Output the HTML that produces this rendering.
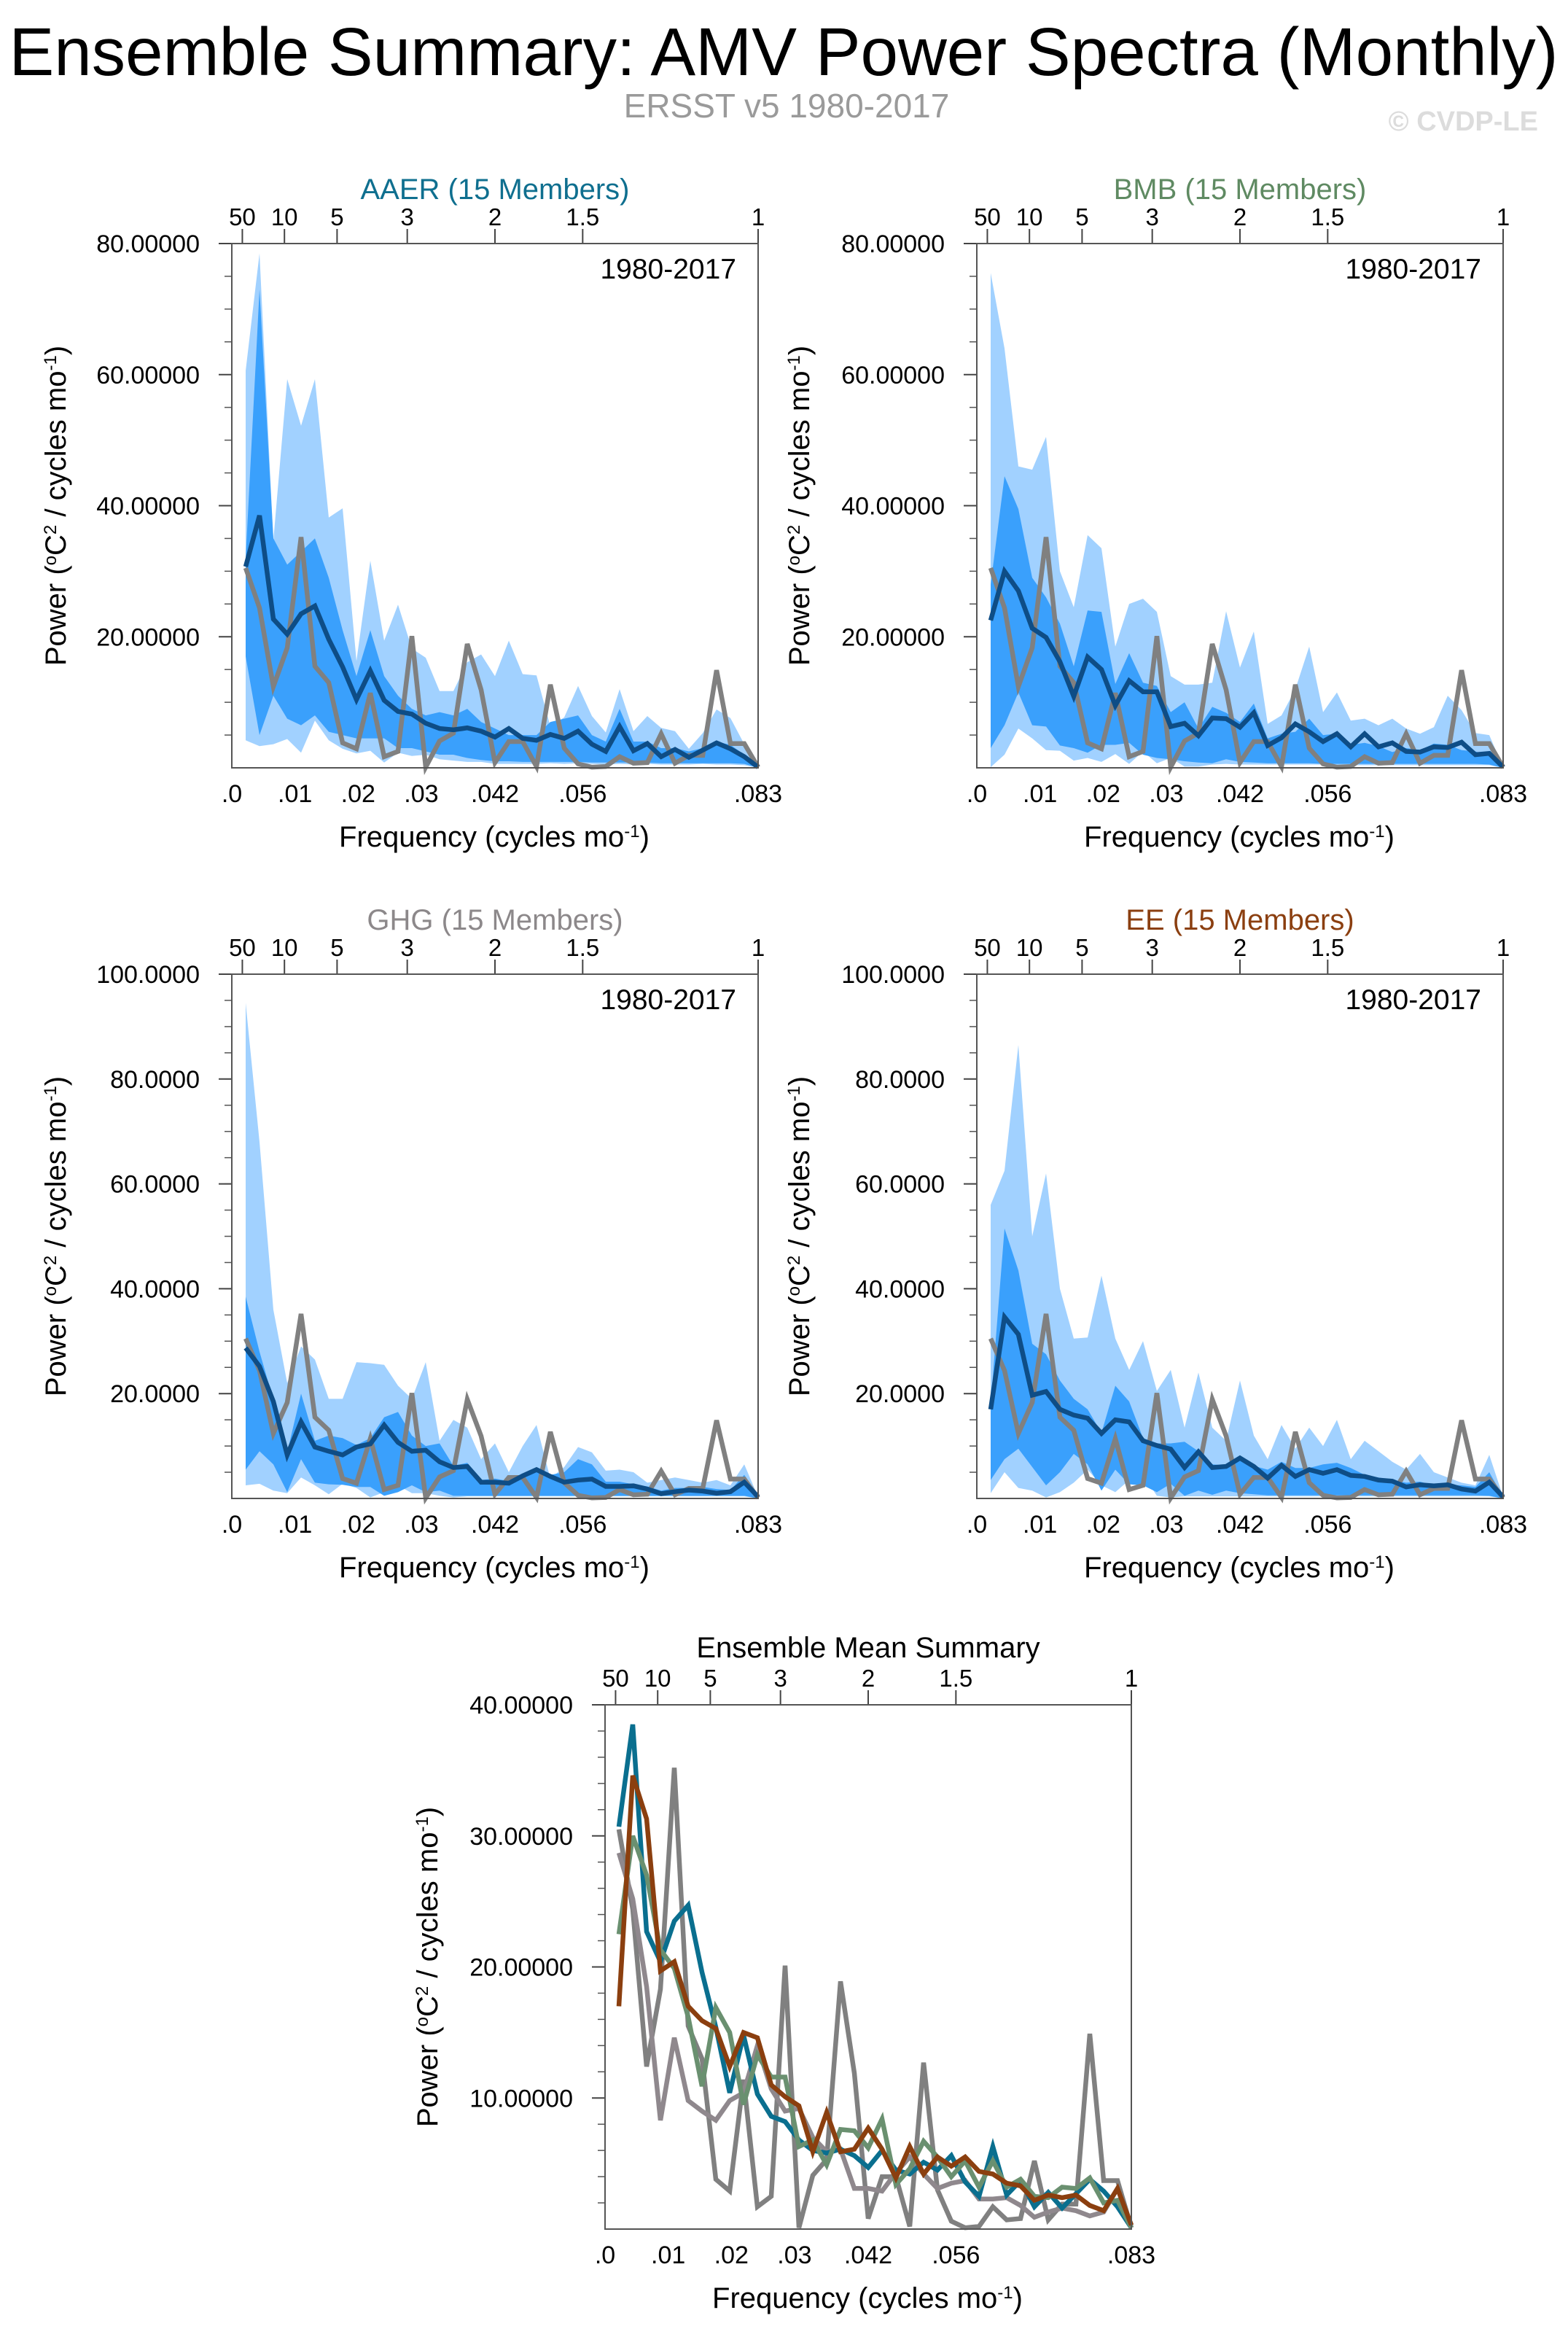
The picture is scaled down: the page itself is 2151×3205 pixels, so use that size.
<!DOCTYPE html>
<html><head><meta charset="utf-8"><title>AMV Power Spectra</title>
<style>
html,body{margin:0;padding:0;background:#fff;}
svg{display:block;font-family:"Liberation Sans",Arial,sans-serif;}
</style></head>
<body>
<svg id="fig" width="2151" height="3205" viewBox="0 0 2151 3205" xmlns="http://www.w3.org/2000/svg">
<text x="1075" y="103" font-size="93" text-anchor="middle" textLength="2125" lengthAdjust="spacingAndGlyphs" fill="#000">Ensemble Summary: AMV Power Spectra (Monthly)</text>
<text x="1079" y="161" font-size="46" text-anchor="middle" fill="#9a9a9a">ERSST v5 1980-2017</text>
<text x="2110" y="179" font-size="38" font-weight="bold" text-anchor="end" fill="#dcdcdc">© CVDP-LE</text>
</svg>
<script>
// ---- data (38 frequencies, k/456 cycles per month) ----
const freqK = [1,2,3,4,5,6,7,8,9,10,11,12,13,14,15,16,17,18,19,20,21,22,23,24,25,26,27,28,29,30,31,32,33,34,35,36,37,38];
const obsPower = [30.5,24.4,12.4,18.3,35.2,15.5,13.0,3.8,2.9,11.4,1.7,2.5,20.1,0.1,4.1,5.3,18.9,11.9,0.8,4.0,4.0,0.2,12.7,3.0,0.6,0.1,0.2,1.7,0.7,0.8,5.2,0.7,1.9,1.9,14.9,3.7,3.7,0.1];

const aaerMean = [30.7,38.5,22.7,20.4,23.5,24.7,19.6,15.4,10.4,14.8,10.3,8.6,8.2,6.8,6.0,5.8,6.1,5.6,4.7,6.0,4.5,4.2,5.1,4.5,5.6,3.6,2.5,6.3,2.6,3.7,1.7,2.8,1.6,2.7,3.8,2.9,1.7,0.1];
const aaerLightHi = [60.6,78.5,34.7,59.3,52.2,59.3,38.2,39.6,16.3,31.6,19.4,24.9,18.2,16.8,11.7,11.7,16.1,17.3,14.0,19.4,14.3,14.1,6.3,7.7,12.5,7.9,5.4,12.0,5.6,7.9,6.1,5.6,2.9,5.3,8.9,7.6,3.6,0.1];
const aaerLightLo = [4.2,3.3,3.6,4.4,2.3,7.2,4.2,2.9,2.2,2.6,0.8,2.3,1.8,2.0,1.3,1.1,0.9,0.9,0.6,0.6,0.6,0.6,0.7,0.6,0.7,0.6,0.5,0.6,0.5,0.6,0.5,0.5,0.5,0.6,0.5,0.5,0.4,0];
const aaerDarkHi = [32,73,35,31,33,35,29,21,14,21,14,11,9,8,8.5,8,9,7,6,5,5,5,7,7.5,8,5,4,9,4,4,3,3,2.5,3,4,3.5,2,0.1];
const aaerDarkLo = [17,5,11,7.5,6.5,8,5.5,5,4.5,4.5,4.5,3,3,2.5,2,2,1.5,1.2,1,1,0.9,0.9,0.9,0.9,0.9,0.8,0.8,0.8,0.8,0.8,0.7,0.7,0.7,0.7,0.7,0.7,0.6,0];

const bmbMean = [22.5,30.0,27.0,21.3,19.9,16.2,10.9,16.9,15.0,9.5,13.3,11.6,11.6,6.3,6.8,4.9,7.6,7.5,6.2,8.4,3.4,4.6,6.7,5.5,4.0,5.2,3.2,5.2,3.2,3.8,2.5,2.4,3.2,3.1,3.9,2.0,2.2,0.1];
const bmbLightHi = [75.5,64,46,45.5,50.5,30,24.5,35.5,33.5,18.5,25,25.8,23.8,14,12.7,12.7,13,23.9,15.3,20.8,6.7,8,12,18.5,8.5,11.5,7.2,7.5,6.5,7.5,6,5.2,6.2,11,8.8,5.3,5,0.1];
const bmbLightLo = [0.1,2,6,4.5,2.7,2.6,1.1,1.5,0.9,2.1,0.6,2.5,0.7,1.5,0.2,0.2,0.5,0.6,0.5,0.5,0.5,0.5,0.5,0.5,0.5,0.4,0.4,0.4,0.4,0.4,0.4,0.4,0.4,0.4,0.4,0.4,0.4,0];
const bmbDarkHi = [28,44.5,39.5,29,26,22,15.5,24,23.8,12.8,17.5,13,12.5,8.5,10,6,9.3,8.4,7,9.8,4.5,5.2,5.5,7.5,5,5.2,3.5,3.8,3.3,2.4,3,2.7,3.7,3.5,2.7,2.5,1.8,0.1];
const bmbDarkLo = [3,6.5,11.5,6.5,6.3,3.4,3,2.3,3.5,3.5,3.8,2,1.5,1.3,1,0.8,0.7,1.3,0.9,0.8,0.7,0.7,0.7,0.7,0.6,0.6,0.6,0.6,0.6,0.6,0.6,0.6,0.6,0.6,0.6,0.6,0.5,0];

const ghgMean = [28.7,25.2,18.5,8.3,14.6,9.8,9.0,8.3,9.8,10.4,14.0,10.7,9.0,9.2,7.0,5.9,6.1,3.1,3.1,2.9,4.3,5.5,4.2,3.1,3.5,3.7,2.3,2.3,2.4,1.8,0.9,1.3,1.6,1.4,1.0,1.3,3.1,0.3];
const ghgLightHi = [94.5,68,36,22,29,26.5,19,19,26,25.8,25.5,21.5,19,26,11,15,13.5,7.5,10.5,5,10,14,3.8,6,9.8,8.8,5.3,5.5,5,3,3.5,4,3.5,3,3.5,2.5,6.5,0.3];
const ghgLightLo = [2.5,2.8,1.5,1,4,2.5,0.8,2.8,2,0.2,1.2,2.5,1,1,0.5,0.2,0.4,0.4,0.4,0.4,0.4,0.4,0.4,0.4,0.4,0.4,0.4,0.4,0.4,0.4,0.4,0.4,0.4,0.4,0.4,0.4,0.4,0];
const ghgDarkHi = [38.5,28,18.8,8.8,20,11,12,11.5,10.2,11.5,15.5,16.5,12,10,10.5,6.2,6.8,3.5,3.8,3.3,4.5,5.8,4.5,5,7.5,6.5,3.2,3.2,2.7,2.3,1.5,2,2,2.2,1.8,1.6,4.5,0.3];
const ghgDarkLo = [5.5,9,6.5,1.2,7.5,3,2.7,2.6,2.2,2.2,0.5,1.2,2.5,1.2,1.5,0.5,0.5,0.5,0.5,0.5,0.5,0.5,0.5,0.5,0.5,0.5,0.5,0.5,0.5,0.5,0.5,0.5,0.5,0.5,0.5,0.5,0.5,0];

const eeMean = [17.0,34.6,31.3,19.7,20.4,17.0,15.9,15.3,12.4,15.0,14.6,11.0,10.1,9.4,5.9,8.9,5.9,6.1,7.7,6.1,3.9,6.3,4.2,5.5,4.8,5.5,4.4,4.2,3.5,3.3,2.2,2.6,2.4,2.6,1.8,1.4,3.1,0.3];
const eeLightHi = [56,62.5,86.5,50,62,40,30.5,30.7,42.5,30.5,24.5,30,20.5,24.5,13.5,24,13.5,11,22.5,12,7.5,14,9.5,13.5,10,15,7.5,11,9,7,5.5,8.5,5,4,3,2.5,8.3,0.3];
const eeLightLo = [1,5,2,1.5,0.2,1.2,3,5.5,2.5,1.2,3.5,4.5,0.5,0.2,0.4,0.4,0.4,0.4,0.4,0.4,0.4,0.4,0.4,0.4,0.4,0.4,0.4,0.4,0.4,0.4,0.4,0.4,0.4,0.4,0.4,0.4,0.4,0];
const eeDarkHi = [18,51.5,43.5,29.5,27.5,22.5,19,17,12.5,21.5,18.5,11.5,10.5,10.5,10.8,9,6.5,6.3,8,6.2,5.5,7,5.8,5.8,6.5,6.8,5.8,4.5,4,3.5,3,3.2,2.5,2.6,2.5,2.2,5,0.3];
const eeDarkLo = [3.5,7.5,9.5,6,2.5,5,8.5,6.5,1.5,5.5,2.7,2.5,1.2,2.8,0.5,1.5,0.7,1.5,1,0.8,0.6,0.6,0.6,0.6,0.6,0.6,0.6,0.6,0.6,0.6,0.6,0.6,0.6,0.6,0.6,0.6,0.5,0];

const periodTicks = [50,10,5,3,2,1.5,1];
const periodLabels = ["50","10","5","3","2","1.5","1"];
const freqTickVals = [0,0.01,0.02,0.03,1/24,1/18,1/12];
const freqTickLabels = [".0",".01",".02",".03",".042",".056",".083"];
const yTicks80 = [20,40,60,80];
const yLabels80 = ["20.00000","40.00000","60.00000","80.00000"];
const yTicks100 = [20,40,60,80,100];
const yLabels100 = ["20.0000","40.0000","60.0000","80.0000","100.0000"];
const yTicks40 = [10,20,30,40];
const yLabels40 = ["10.00000","20.00000","30.00000","40.00000"];

const NS = "http://www.w3.org/2000/svg";
const svg = document.getElementById("fig");
const FMAX = 1/12;
function mk(tag, attrs, parent){
  const e = document.createElementNS(NS, tag);
  for (const k in attrs) e.setAttribute(k, attrs[k]);
  (parent||svg).appendChild(e);
  return e;
}
function freqOf(i){ return freqK[i]/456; }

function drawAxes(p, g){
  const xs = f => p.x0 + f/FMAX*p.w;
  const ys = v => p.y0 + p.h - v/p.ymax*p.h;
  for (let v = p.minor; v < p.ymax - 1e-6; v += p.minor){
    const t = mk("line",{x1:p.x0-10,x2:p.x0,y1:ys(v),y2:ys(v),stroke:"#555","stroke-width":1.5},g);
    
    
  }
  p.yTicks.forEach((v,j)=>{
    const t = mk("line",{x1:p.x0-18,x2:p.x0,y1:ys(v),y2:ys(v),stroke:"#444","stroke-width":2},g);
    
    
    const l = mk("text",{x:p.x0-44,y:ys(v)+12,"font-size":34,"text-anchor":"end",fill:"#000"},g);
    l.textContent = p.yLabels[j];
    
    
  });
  periodTicks.forEach((P,j)=>{
    const x = xs(1/(12*P));
    const t = mk("line",{x1:x,x2:x,y1:p.y0-20,y2:p.y0,stroke:"#444","stroke-width":2},g);
    
    
    const l = mk("text",{x:x,y:p.y0-25,"font-size":33,"text-anchor":"middle",fill:"#000"},g);
    l.textContent = periodLabels[j];
    
    
  });
  freqTickVals.forEach((f,j)=>{
    const l = mk("text",{x:xs(f),y:p.y0+p.h+47,"font-size":34,"text-anchor":"middle",fill:"#000"},g);
    l.textContent = freqTickLabels[j];
    
    
  });
  const xl = mk("text",{x:p.x0+360,y:p.y0+p.h+108,"font-size":40,"text-anchor":"middle",fill:"#000"},g);
  xl.innerHTML = 'Frequency (cycles mo<tspan baseline-shift="super" font-size="24">-1</tspan>)';
  
  
  const cx = p.x0 + p.ylabDx, cy = p.y0 + p.h/2;
  const yl = mk("text",{x:cx,y:cy,"font-size":40,"text-anchor":"middle",fill:"#000",transform:`rotate(-90 ${cx} ${cy})`},g);
  yl.innerHTML = 'Power (<tspan baseline-shift="super" font-size="24">o</tspan>C<tspan baseline-shift="super" font-size="24">2</tspan> / cycles mo<tspan baseline-shift="super" font-size="24">-1</tspan>)';
  
  
  return {xs, ys};
}

function band(hi, lo, fill, sc, g, name){
  let pts = [];
  for (let i=0;i<freqK.length;i++) pts.push(sc.xs(freqOf(i)).toFixed(1)+","+sc.ys(hi[i]).toFixed(1));
  for (let i=freqK.length-1;i>=0;i--) pts.push(sc.xs(freqOf(i)).toFixed(1)+","+sc.ys(lo[i]).toFixed(1));
  const e = mk("polygon",{points:pts.join(" "),fill:fill},g);
  
  
}
function line(vals, color, sc, g, name){
  const pts = vals.map((v,i)=>sc.xs(freqOf(i)).toFixed(1)+","+sc.ys(v).toFixed(1)).join(" ");
  const e = mk("polyline",{points:pts,fill:"none",stroke:color,"stroke-width":6.5,"stroke-linejoin":"miter"},g);
  
  
}
function frame(p, g){
  const r = mk("rect",{x:p.x0,y:p.y0,width:p.w,height:p.h,fill:"none",stroke:"#555","stroke-width":2},g);
  
  
}

const panels = [
  {key:"aaer",title:"AAER (15 Members)",color:"#0f6f8f",x0:318,y0:334,ymax:80,minor:5,yTicks:yTicks80,yLabels:yLabels80,ylabDx:-228,
   mean:aaerMean,lhi:aaerLightHi,llo:aaerLightLo,dhi:aaerDarkHi,dlo:aaerDarkLo},
  {key:"bmb",title:"BMB (15 Members)",color:"#5f8a62",x0:1340,y0:334,ymax:80,minor:5,yTicks:yTicks80,yLabels:yLabels80,ylabDx:-230,
   mean:bmbMean,lhi:bmbLightHi,llo:bmbLightLo,dhi:bmbDarkHi,dlo:bmbDarkLo},
  {key:"ghg",title:"GHG (15 Members)",color:"#8c888a",x0:318,y0:1336,ymax:100,minor:5,yTicks:yTicks100,yLabels:yLabels100,ylabDx:-228,
   mean:ghgMean,lhi:ghgLightHi,llo:ghgLightLo,dhi:ghgDarkHi,dlo:ghgDarkLo},
  {key:"ee",title:"EE (15 Members)",color:"#8b3f10",x0:1340,y0:1336,ymax:100,minor:5,yTicks:yTicks100,yLabels:yLabels100,ylabDx:-230,
   mean:eeMean,lhi:eeLightHi,llo:eeLightLo,dhi:eeDarkHi,dlo:eeDarkLo}
];

panels.forEach(p=>{
  p.w = 722; p.h = 719;
  const g = mk("g",{});
  
  
  const t = mk("text",{x:p.x0+p.w/2,y:p.y0-61,"font-size":40,"text-anchor":"middle",fill:p.color},g);
  t.textContent = p.title;
  
  
  const sc = drawAxes(p, g);
  band(p.lhi, p.llo, "#a1d1ff", sc, g, "light-spread-band");
  band(p.dhi, p.dlo, "#3aa0fc", sc, g, "dark-spread-band");
  line(obsPower, "#808080", sc, g, "observed-spectrum-line");
  line(p.mean, "#0e4d86", sc, g, "ensemble-mean-line");
  frame(p, g);
  const yr = mk("text",{x:p.x0+p.w-30,y:p.y0+48,"font-size":39,"text-anchor":"end",fill:"#000"},g);
  yr.textContent = "1980-2017";
  
  
});

const sp = {x0:830,y0:2338,w:722,h:719,ymax:40,minor:2,yTicks:yTicks40,yLabels:yLabels40,ylabDx:-230};
const sg = mk("g",{});


const st = mk("text",{x:sp.x0+361,y:sp.y0-65,"font-size":40,"text-anchor":"middle",fill:"#000"},sg);
st.textContent = "Ensemble Mean Summary";


const ssc = drawAxes(sp, sg);
line(obsPower, "#808080", ssc, sg, "summary-observed-line");
line(ghgMean, "#8f888d", ssc, sg, "summary-ghg-line");
line(aaerMean, "#0a6f8f", ssc, sg, "summary-aaer-line");
line(bmbMean, "#6a9070", ssc, sg, "summary-bmb-line");
line(eeMean, "#8b3f0f", ssc, sg, "summary-ee-line");
frame(sp, sg);
</script>
</body></html>
